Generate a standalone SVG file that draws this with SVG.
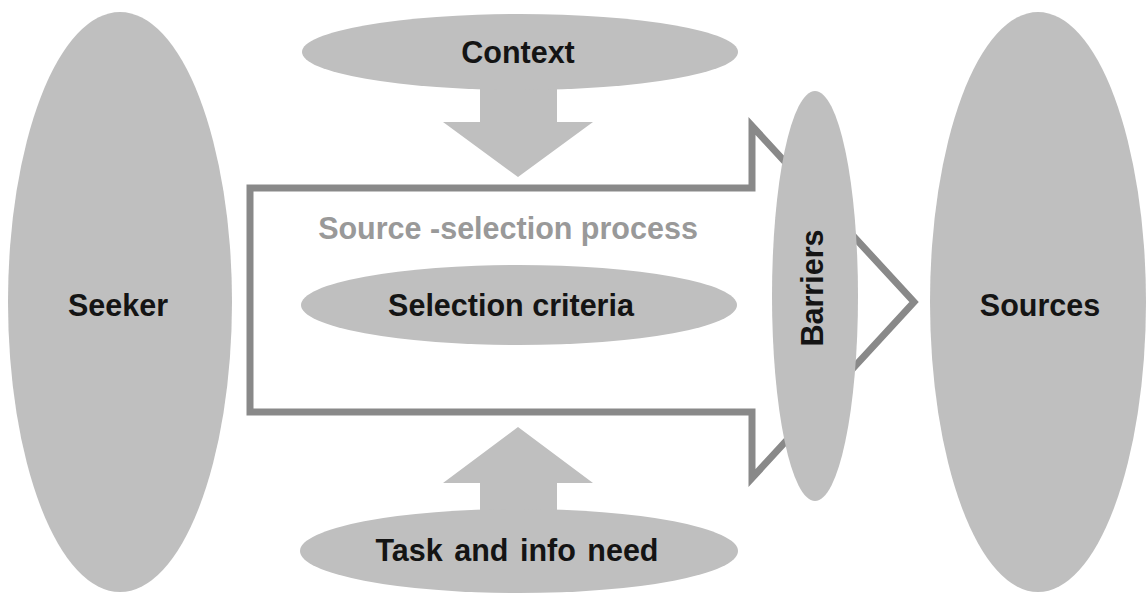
<svg xmlns="http://www.w3.org/2000/svg" width="1148" height="594" viewBox="0 0 1148 594">
<style>
.node{fill:#bfbfbf;}
.lbl{font-family:"Liberation Sans",Arial,sans-serif;font-weight:bold;font-size:30.5px;fill:#141414;text-anchor:middle;dominant-baseline:central;}
.proc{fill:#999999;}
.big{fill:none;stroke:#898989;stroke-width:7;stroke-linejoin:miter;}
.flow{fill:#bfbfbf;}
</style>
<rect width="1148" height="594" fill="#ffffff"/>
<g id="connectors">
<polygon class="big" points="250,188 752,188 752,126 914,302 752,478 752,412 250,412"/>
<polygon id="context-arrow" class="flow" points="480,80 557,80 557,122 593,122 518,177 443,122 480,122"/>
<polygon id="task-arrow" class="flow" points="518,427 593,483 557,483 557,520 480,520 480,483 443,483"/>
</g>
<g id="seeker"><ellipse class="node" cx="120" cy="302" rx="112" ry="290"/><text class="lbl" x="118" y="305">Seeker</text></g>
<g id="context"><ellipse class="node" cx="520" cy="52" rx="218" ry="38"/><text class="lbl" x="518" y="52">Context</text></g>
<g id="process-label"><text class="lbl proc" x="508" y="228">Source -selection process</text></g>
<g id="selection-criteria"><ellipse class="node" cx="519" cy="305" rx="218" ry="40"/><text class="lbl" x="511" y="305">Selection criteria</text></g>
<g id="task"><ellipse class="node" cx="519" cy="551" rx="219" ry="42"/><text class="lbl" x="517" y="550" word-spacing="3">Task and info need</text></g>
<g id="barriers"><ellipse class="node" cx="815" cy="296" rx="43" ry="205"/><text class="lbl" transform="translate(812,288) rotate(-90)" x="0" y="0">Barriers</text></g>
<g id="sources"><ellipse class="node" cx="1038" cy="302" rx="108" ry="290"/><text class="lbl" x="1040" y="305">Sources</text></g>
</svg>
